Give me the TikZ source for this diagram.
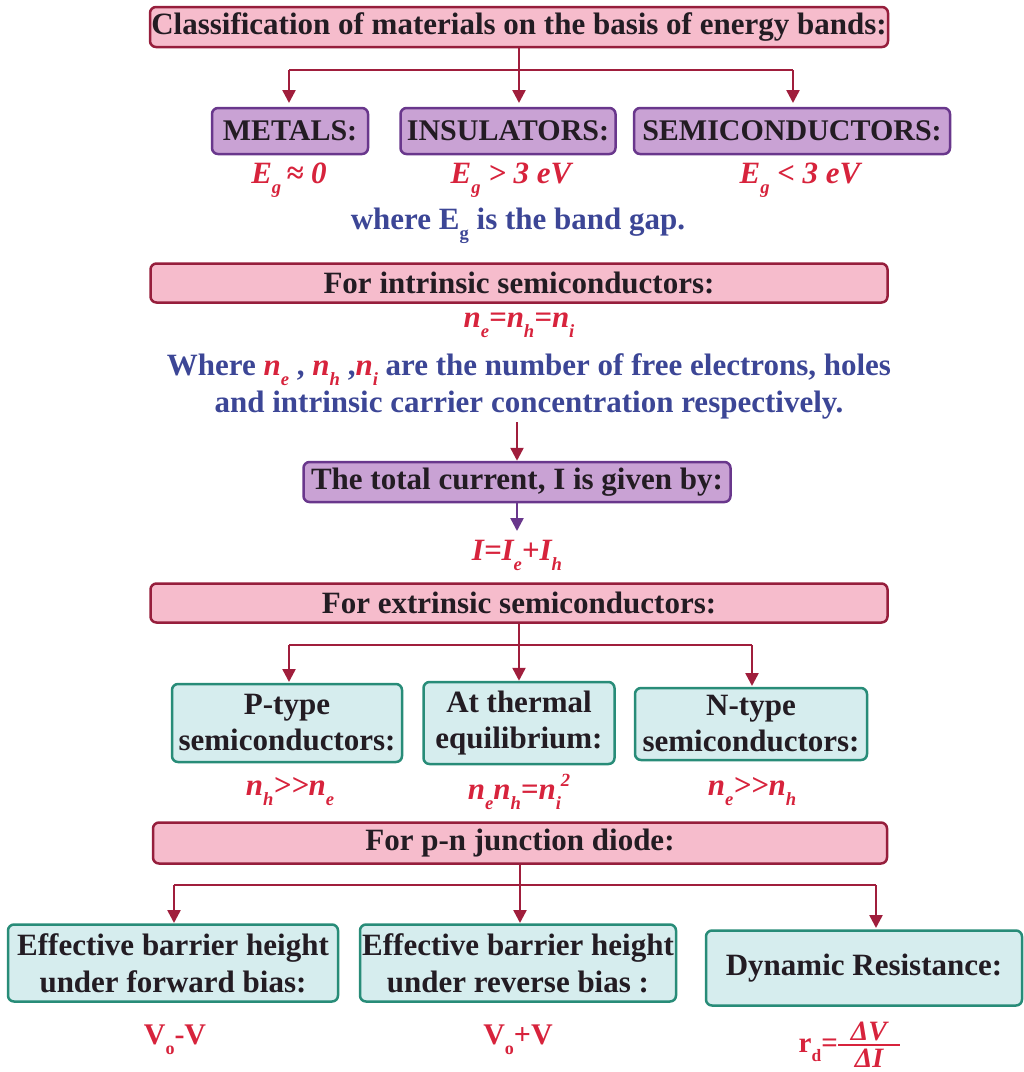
\documentclass[tikz,border=0pt]{standalone}
\usepackage{fontspec}
\setmainfont{Liberation Serif}
\usetikzlibrary{arrows.meta}
\definecolor{pinkfill}{RGB}{246,188,204}
\definecolor{pinkdraw}{RGB}{150,30,60}
\definecolor{purplefill}{RGB}{201,162,212}
\definecolor{purpledraw}{RGB}{105,55,140}
\definecolor{tealfill}{RGB}{214,237,238}
\definecolor{tealdraw}{RGB}{40,140,120}
\definecolor{redtext}{RGB}{215,35,60}
\definecolor{bluetext}{RGB}{60,70,150}
\definecolor{arrowc}{RGB}{160,30,60}
\definecolor{darktext}{RGB}{35,28,35}
\newcommand\sbs[1]{\raisebox{-0.7ex}{\scalebox{0.6}{#1}}}
\newcommand\sps[1]{\raisebox{0.9ex}{\scalebox{0.6}{#1}}}
\newcommand\fs[2]{\fontsize{#1}{#2}\selectfont}
\newcommand\mygg{>\kern0pt>}
\tikzset{
  basebox/.style={rounded corners=6pt, line width=2.5pt, inner sep=0pt, align=center, text=darktext, font=\bfseries},
  pinkbox/.style={basebox, fill=pinkfill, draw=pinkdraw, minimum height=40pt, font=\bfseries\fs{31}{36}},
  purplebox/.style={basebox, fill=purplefill, draw=purpledraw, minimum height=46pt, font=\bfseries\fs{30}{36}},
  tealbox/.style={basebox, fill=tealfill, draw=tealdraw, font=\bfseries\fs{31}{36}},
  redmath/.style={text=redtext, font=\bfseries\itshape\fs{31}{36}, inner sep=0pt},
  bluetxt/.style={text=bluetext, font=\bfseries\fs{31}{37}, inner sep=0pt, align=center},
  arr/.style={draw=arrowc, line width=2.5pt, -{Triangle[length=13pt,width=13pt]}},
  ln/.style={draw=arrowc, line width=2.5pt},
}
\begin{document}
\begin{tikzpicture}[x=1pt,y=-1pt]
\useasboundingbox (0,0) rectangle (1024,1072);
% title
\node[pinkbox, minimum width=738pt] (title) at (519,27) {Classification of materials on the basis of energy bands:};
\node[purplebox, minimum width=156pt] (metals) at (290,131) {METALS:};
\node[purplebox, minimum width=215pt] (insul) at (508,131) {INSULATORS:};
\node[purplebox, minimum width=316pt] (semi) at (792,131) {SEMICONDUCTORS:};
\coordinate (j1) at (519,70);
\draw[ln] (title.south) -- (j1);
\draw[arr] (289,70) -- (289,103);
\draw[arr] (j1) -- (519,103);
\draw[arr] (793,70) -- (793,103);
\draw[ln] (289,70) -- (793,70);
\node[redmath] (eg1) at (289,180) {E\sbs{g}\,≈ 0};
\node[redmath] (eg2) at (511,180) {E\sbs{g} > 3 eV};
\node[redmath] (eg3) at (800,180) {E\sbs{g} < 3 eV};
\node[bluetxt] (where1) at (518,226) {where E\sbs{g} is the band gap.};
% intrinsic
\node[pinkbox, minimum width=737pt, minimum height=39pt] (intr) at (519,283) {For intrinsic semiconductors:};
\node[redmath] (neq) at (519,325) {n\sbs{e}=n\sbs{h}=n\sbs{i}};
\node[bluetxt] (where2) at (529,386) {Where {\color{redtext}\itshape n\sbs{e}} , {\color{redtext}\itshape n\sbs{h}} ,{\color{redtext}\itshape n\sbs{i}} are the number of free electrons, holes\\ and intrinsic carrier concentration respectively.};
\node[purplebox, minimum width=427pt, minimum height=40pt, font=\bfseries\fs{31}{36}] (total) at (517,482) {The total current, I is given by:};
\coordinate (a1) at (517,422);
\draw[arr] (a1) -- (total.north);
\node[redmath] (ieq) at (517,555) {I=I\sbs{e}+I\sbs{h}};
\draw[draw=purpledraw, line width=2.5pt, -{Triangle[length=13pt,width=13pt]}] (total.south) -- (517,531);
% extrinsic
\node[pinkbox, minimum width=737pt, minimum height=39pt] (extr) at (519,603) {For extrinsic semiconductors:};
\node[tealbox, minimum width=230pt, minimum height=78pt] (ptype) at (287,723) {P-type\\semiconductors:};
\node[tealbox, minimum width=191pt, minimum height=82pt] (therm) at (519,723) {At thermal\\equilibrium:};
\node[tealbox, minimum width=232pt, minimum height=72pt] (ntype) at (751,724) {N-type\\semiconductors:};
\coordinate (j2) at (519,645);
\draw[ln] (extr.south) -- (j2);
\draw[ln] (289,645) -- (752,645);
\draw[arr] (289,645) -- (289,682);
\draw[arr] (j2) -- (therm.north);
\draw[arr] (752,645) -- (752,686);
\node[redmath] (pn1) at (290,792) {n\sbs{h}\mygg n\sbs{e}};
\node[redmath] (pn2) at (519,792) {n\sbs{e}n\sbs{h}=n\sbs{i}\sps{2}};
\node[redmath] (pn3) at (752,792) {n\sbs{e}\mygg n\sbs{h}};
% pn junction
\node[pinkbox, minimum width=734pt, minimum height=41pt] (pnj) at (520,843) {For p-n junction diode:};
\node[tealbox, minimum width=330pt, minimum height=77pt, font=\bfseries\fs{31}{37}] (fwd) at (173,963) {Effective barrier height\\under forward bias:};
\node[tealbox, minimum width=316pt, minimum height=77pt, font=\bfseries\fs{31}{37}] (rev) at (518,963) {Effective barrier height\\under reverse bias :};
\node[tealbox, minimum width=316pt, minimum height=75pt] (dyn) at (864,968) {Dynamic Resistance:};
\coordinate (j3) at (520,885);
\draw[ln] (pnj.south) -- (j3);
\draw[ln] (174,885) -- (876,885);
\draw[arr] (174,885) -- (174,923);
\draw[arr] (j3) -- (520,923);
\draw[arr] (876,885) -- (876,928);
\node[redmath, font=\bfseries\fs{30}{36}] (v1) at (175,1040) {V\sbs{o}-V};
\node[redmath, font=\bfseries\fs{30}{36}] (v2) at (518,1040) {V\sbs{o}+V};
% dynamic resistance formula
\node[redmath, font=\bfseries\fs{29}{34}, anchor=east] (rd) at (838,1050) {r\sbs{d}=};
\node[redmath, font=\bfseries\itshape\fs{28}{32}, anchor=south] (dv) at (869,1041) {ΔV};
\node[redmath, font=\bfseries\itshape\fs{28}{32}, anchor=north] (di) at (869,1049) {ΔI};
\draw[draw=redtext, line width=2pt] (rd.east |- 0,1045) -- ++(62,0);
\end{tikzpicture}
\end{document}
